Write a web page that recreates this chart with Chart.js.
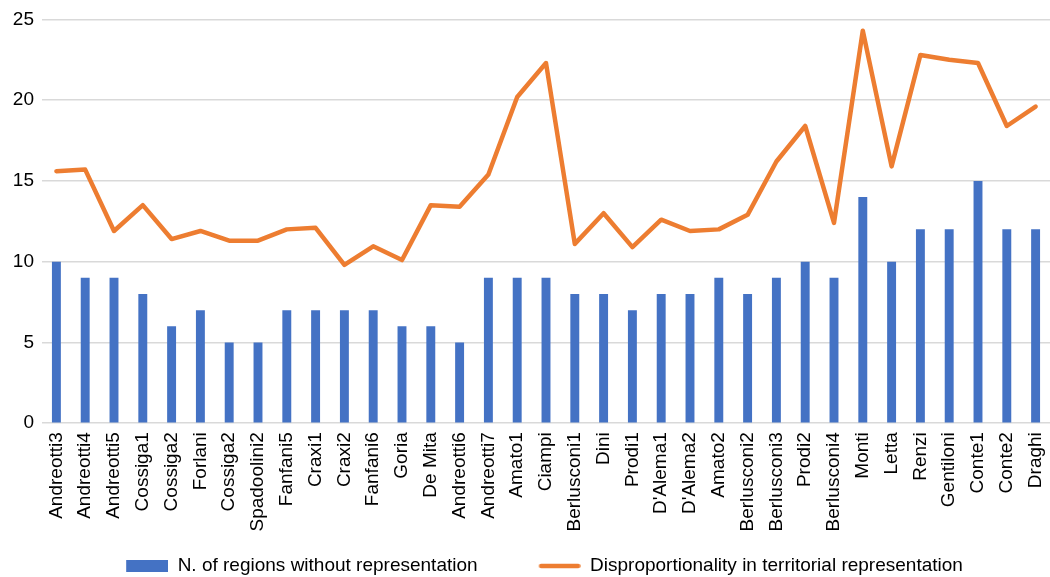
<!DOCTYPE html>
<html>
<head>
<meta charset="utf-8">
<script src="https://cdn.jsdelivr.net/npm/chart.js@4/dist/chart.umd.min.js"></script>
<style>
html,body{margin:0;padding:0;background:#fff;}
#wrap{width:1050px;height:577px;}
</style>
</head>
<body>
<div id="wrap"><canvas id="c" width="1050" height="577"></canvas></div>
<script>
const categories = ["Andreotti3","Andreotti4","Andreotti5","Cossiga1","Cossiga2","Forlani","Cossiga2","Spadoolini2","Fanfani5","Craxi1","Craxi2","Fanfani6","Goria","De Mita","Andreotti6","Andreotti7","Amato1","Ciampi","Berlusconi1","Dini","Prodi1","D'Alema1","D'Alema2","Amato2","Berlusconi2","Berlusconi3","Prodi2","Berlusconi4","Monti","Letta","Renzi","Gentiloni","Conte1","Conte2","Draghi"];
const regionsWithout = [10,9,9,8,6,7,5,5,7,7,7,7,6,6,5,9,9,9,8,8,7,8,8,9,8,9,10,9,14,10,12,12,15,12,12];
const disproportionality = [15.6,15.7,11.9,13.5,11.4,11.9,11.3,11.3,12.0,12.1,9.8,10.95,10.1,13.5,13.4,15.4,20.2,22.3,11.1,13.0,10.9,12.6,11.9,12.0,12.9,16.2,18.4,12.4,24.3,15.9,22.8,22.5,22.3,18.4,19.6];
const yTicks = [0,5,10,15,20,25];
const seriesNames = ["N. of regions without representation","Disproportionality in territorial representation"];

const BLUE = "#4472C4", ORANGE = "#ED7D31";
const EXTRA = 45;              // transparent room left of each legend icon
const BOXW = 42 + EXTRA;

function makeIcon(kind){
  const cv = document.createElement("canvas");
  cv.width = BOXW; cv.height = 12;
  const g = cv.getContext("2d");
  if(kind === "bar"){
    g.fillStyle = BLUE; g.fillRect(EXTRA,0,42,12);
  } else {
    g.strokeStyle = ORANGE; g.lineWidth = 4.5; g.lineCap = "round";
    g.beginPath(); g.moveTo(EXTRA+2.5,6); g.lineTo(BOXW-2.5,6); g.stroke();
  }
  return cv;
}
const icons = [makeIcon("bar"), makeIcon("line")];

Chart.defaults.font.family = "'Liberation Sans', Arial, sans-serif";
Chart.defaults.color = "#000";

new Chart(document.getElementById("c"), {
  data: {
    labels: categories,
    datasets: [
      {type:"bar", label: seriesNames[0], data: regionsWithout, backgroundColor: BLUE,
       barPercentage: 0.31, categoryPercentage: 1.0, order: 2},
      {type:"line", label: seriesNames[1], data: disproportionality, borderColor: ORANGE,
       backgroundColor: ORANGE, borderWidth: 4.5, pointRadius: 0, tension: 0,
       borderJoinStyle: "round", borderCapStyle: "round", order: 1}
    ]
  },
  options: {
    responsive: false,
    animation: false,
    layout: {padding: {top: 6, right: 0, left: -6, bottom: -8.5}},
    plugins: {
      tooltip: {enabled: false},
      legend: {
        position: "bottom",
        labels: {
          usePointStyle: true,
          pointStyleWidth: BOXW,
          padding: 16,
          font: {size: 19},
          generateLabels(chart){
            return chart.data.datasets.map((ds,i)=>({
              text: ds.label, pointStyle: icons[i], fillStyle: i?ORANGE:BLUE,
              strokeStyle: "transparent", lineWidth: 0, datasetIndex: i, hidden: false
            }));
          }
        }
      }
    },
    scales: {
      x: {
        grid: {display: false, drawTicks: false},
        border: {display: false},
        ticks: {minRotation: 90, maxRotation: 90, autoSkip: false, font: {size: 19}, padding: 9},
        afterFit(axis){ axis.paddingLeft = 0; axis.paddingRight = 0; }
      },
      y: {
        min: 0, max: 25,
        afterBuildTicks(axis){ axis.ticks = yTicks.map(v=>({value:v})); },
        grid: {color: "#d9d9d9", lineWidth: 1.5, drawTicks: false},
        border: {display: false},
        ticks: {font: {size: 19}, padding: 8},
        afterFit(axis){ axis.width = 48; }
      }
    }
  }
});
</script>
</body>
</html>
